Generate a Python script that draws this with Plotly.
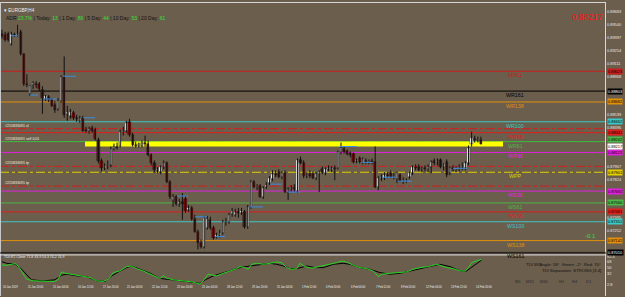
import plotly.graph_objects as go

W, H = 625, 297
BG = "rgb(107,94,77)"
PR = 606  # right edge of plotting area in px

# ---------------- data (prices in points, 1e-5) ----------------
opens = [89441, 89430, 89441, 89331, 89430, 89430, 89463, 89210, 88880, 88770,
         88869, 88880, 88880, 88814, 88715, 88737, 88704, 88649, 88605, 88693,
         88957, 88550, 88528, 88561, 88506, 88473, 88506, 88374, 88363, 88396,
         88374, 88264, 88022, 87945, 87967, 87978, 88165, 88187, 88198, 88352,
         88363, 88462, 88319, 88209, 88198, 88198, 88231, 88220, 88088, 88000,
         87923, 87901, 87956, 88000, 87791, 87593, 87626, 87549, 87571, 87604,
         87483, 87505, 87384, 87241, 87120, 87076, 87285, 87373, 87285, 87186,
         87197, 87230, 87351, 87351, 87439, 87428, 87461, 87450, 87461, 87296,
         87516, 87791, 87736, 87747, 87626, 87736, 87780, 87824, 87879, 87901,
         87846, 87890, 87681, 87714, 87725, 87692, 88033, 88000, 87857, 87879,
         87879, 87835, 87879, 87934, 87890, 87934, 87923, 87945, 87945, 88121,
         88165, 88132, 88110, 88099, 88022, 88055, 88000, 88022, 88011, 88022,
         88011, 87736, 87835, 87835, 87868, 87890, 87846, 87824, 87868, 87802,
         87802, 87846, 87890, 87956, 87956, 87934, 87945, 87934, 87956, 88022,
         88011, 88033, 87956, 88011, 87890, 87945, 87923, 87945, 87956, 87945,
         88000, 88220, 88275, 88264, 88264]
highs = [89485, 89463, 89463, 89463, 89452, 89540, 89485, 89221, 88990, 88869,
         88913, 88913, 88902, 88858, 88759, 88759, 88726, 88693, 88726, 88979,
         89188, 88638, 88605, 88583, 88539, 88528, 88528, 88407, 88407, 88418,
         88396, 88286, 88055, 88000, 88033, 88187, 88220, 88231, 88374, 88407,
         88473, 88495, 88341, 88242, 88231, 88253, 88308, 88253, 88110, 88033,
         87956, 87978, 88033, 88022, 87813, 87659, 87648, 87604, 87670, 87637,
         87538, 87527, 87428, 87263, 87153, 87417, 87417, 87406, 87307, 87230,
         87263, 87373, 87395, 87450, 87505, 87494, 87505, 87505, 87483, 87538,
         87813, 87813, 87769, 87769, 87747, 87791, 87857, 87923, 87923, 87934,
         87912, 87923, 87736, 87758, 87769, 88055, 88077, 88033, 87901, 87923,
         87912, 87901, 87923, 87967, 87956, 87978, 87967, 87978, 88143, 88231,
         88187, 88154, 88132, 88121, 88055, 88077, 88066, 88055, 88044, 88055,
         88187, 87857, 87879, 87901, 87901, 87923, 87890, 87912, 87890, 87846,
         87835, 87912, 87978, 87989, 87989, 87967, 87978, 87989, 88033, 88055,
         88055, 88055, 88000, 88044, 87967, 87978, 87967, 87989, 88011, 88022,
         88198, 88352, 88308, 88297, 88297]
lows = [89386, 89353, 89353, 89309, 89408, 89408, 89199, 88858, 88847, 88748,
        88825, 88836, 88803, 88550, 88693, 88682, 88627, 88561, 88583, 88671,
        88506, 88473, 88495, 88484, 88462, 88451, 88352, 88341, 88330, 88341,
        88253, 88000, 87912, 87923, 87934, 87956, 88143, 88154, 88176, 88308,
        88341, 88297, 88187, 88176, 88176, 88176, 88187, 88077, 87978, 87901,
        87890, 87879, 87934, 87780, 87604, 87516, 87527, 87516, 87373, 87450,
        87461, 87362, 87230, 87043, 87054, 87054, 87263, 87263, 87153, 87164,
        87175, 87208, 87307, 87329, 87406, 87406, 87395, 87428, 87274, 87274,
        87494, 87725, 87703, 87615, 87604, 87714, 87758, 87802, 87846, 87835,
        87824, 87670, 87593, 87681, 87681, 87670, 87989, 87835, 87835, 87835,
        87824, 87813, 87681, 87879, 87868, 87912, 87901, 87813, 87934, 88099,
        88110, 88088, 88066, 88000, 88000, 88000, 87989, 87989, 87989, 87989,
        87725, 87703, 87802, 87813, 87835, 87835, 87824, 87780, 87791, 87769,
        87780, 87824, 87868, 87923, 87912, 87901, 87912, 87901, 87890, 87978,
        87978, 87945, 87923, 87846, 87868, 87912, 87901, 87912, 87923, 87923,
        87978, 88187, 88231, 88231, 88209]
closes = [89419, 89375, 89375, 89441, 89419, 89441, 89210, 88880, 88869, 88858,
          88891, 88869, 88825, 88726, 88748, 88704, 88638, 88594, 88693, 88957,
          88539, 88572, 88572, 88506, 88495, 88506, 88363, 88363, 88385, 88363,
          88275, 88022, 87945, 87967, 87978, 88165, 88187, 88176, 88352, 88363,
          88451, 88319, 88209, 88198, 88220, 88231, 88220, 88088, 88000, 87923,
          87934, 87956, 88000, 87791, 87626, 87626, 87549, 87571, 87549, 87472,
          87505, 87384, 87241, 87120, 87076, 87395, 87384, 87285, 87175, 87208,
          87230, 87351, 87362, 87428, 87472, 87461, 87450, 87472, 87296, 87516,
          87791, 87736, 87747, 87626, 87725, 87758, 87835, 87879, 87868, 87846,
          87890, 87681, 87703, 87725, 87714, 88033, 88000, 87857, 87868, 87857,
          87835, 87879, 87901, 87901, 87934, 87945, 87945, 87934, 88121, 88176,
          88121, 88099, 88088, 88011, 88033, 88011, 88044, 88011, 88022, 88011,
          87736, 87835, 87846, 87868, 87857, 87846, 87857, 87890, 87802, 87813,
          87813, 87890, 87956, 87945, 87923, 87945, 87934, 87956, 88011, 88000,
          88022, 87956, 87989, 87868, 87945, 87934, 87945, 87956, 87967, 88000,
          88176, 88286, 88264, 88275, 88217]

# short blue swing segments (bar index from, bar index to, price in points)
blue_x0 = [2.9, 9.0, 13.5, 19.6, 26.0, 56.3, 62.1, 68.5, 79.7, 86.2, 92.0, 108.7, 115.8, 122.2, 127.3, 145.0]
blue_x1 = [5.1, 11.6, 17.7, 23.8, 29.9, 59.8, 65.9, 71.7, 83.9, 90.0, 95.8, 114.1, 119.3, 126.4, 131.8, 149.5]
blue_y = [89419, 88759, 88715, 88968, 88506, 87637, 87406, 87186, 87516, 87769, 87681, 88187, 88011, 87846, 87802, 87945]

# weekly fibonacci pivot levels
level_names = ["WR161", "WR138", "WR100", "WR78", "WR61", "WR38", "WPP",
               "WS38", "WS61", "WS78", "WS100", "WS138", "WS161"]
level_prices = [0.88803, 0.88682, 0.88462, 0.88341, 0.88242, 0.88121, 0.87901,
                0.87692, 0.87560, 0.87461, 0.87351, 0.87142, 0.87010]
level_colors = ["#000000", "#E0900A", "#3CC8C8", "#E01E1E", "#4CB848", "#E020E0", "#E0D000",
                "#E020E0", "#4CB848", "#E01E1E", "#3CC8C8", "#E0900A", "#000000"]
extra_level_name = "MR61"
extra_level_price = 0.89023

# order lines
order_prices = [0.88385, 0.87967, 0.87747]
order_texts = ["#215833091 sl", "#215833091 tp", "#215833091 tp"]
open_price = 0.88242
open_text = "#215833091 sell 0.01"
band_lo, band_hi = 0.88187, 0.88242
band_x0, band_x1 = 26.7, 161.1

# visible regular price-scale ticks (others are hidden by level labels)
price_ticks = [0.89683, 0.89540, 0.89397, 0.89254, 0.89111, 0.88968,
               0.88539, 0.88396, 0.87967, 0.87824, 0.87395, 0.87252]
current_price = 0.88217

# TDI lines (bar index, value)
tdi_green_x = [0, 1.5, 3.1, 4.2, 5.2, 7.9, 10.1, 13.3, 17.0, 18.1, 19.2, 20.3, 22.4, 24.5, 26.7, 28.3,
               30.4, 32.6, 34.2, 35.8, 37.9, 40.1, 41.7, 43.3, 45.4, 47.6, 49.7, 50.8, 51.9, 53.0,
               55.1, 57.8, 61.0, 63.7, 64.7, 66.3, 67.4, 69.0, 71.2, 73.3, 75.5, 76.5, 78.1, 79.2,
               80.3, 81.9, 84.0, 86.2, 88.3, 89.9, 91.5, 93.2, 94.8, 95.8, 97.4, 99.6, 102.3,
               105.5, 107.6, 109.2, 110.8, 113.0, 115.1, 117.3, 119.4, 121.0, 122.1, 124.8, 127.4,
               130.1, 132.2, 134.4, 137.1, 139.8, 140.8, 143.0, 145.1, 147.3, 148.9, 150.0, 151.0,
               152.6, 154.2]
tdi_green_y = [57.8, 56.8, 59.7, 61.6, 54.8, 17.0, 12.3, 12.3, 10.4, 17.0, 37.8, 34.1, 31.2, 26.5, 24.6, 21.8,
               12.3, 10.4, 17.0, 36.0, 40.7, 53.0, 54.8, 47.4, 40.7, 31.2, 21.8, 19.0, 26.5, 19.9,
               15.1, 12.3, 9.4, 2.8, 12.3, 31.2, 28.4, 26.5, 34.1, 40.7, 47.4, 53.0, 50.2, 45.4,
               59.7, 62.5, 59.7, 62.5, 66.3, 64.4, 50.2, 45.4, 47.4, 62.5, 53.0, 48.3, 53.0,
               59.7, 64.4, 69.1, 66.3, 56.8, 50.2, 47.4, 40.7, 24.6, 31.2, 34.1, 36.0,
               37.8, 45.4, 50.2, 53.0, 59.7, 56.8, 50.2, 47.4, 40.7, 40.7, 50.2, 64.4,
               69.1, 74.2]
tdi_black_x = [0, 1.5, 4.2, 5.8, 9.5, 13.3, 17.0, 19.2, 20.8, 24.0, 27.2, 30.4, 33.1, 35.3, 37.4,
               40.1, 41.7, 44.4, 47.6, 50.8, 55.1, 59.4, 63.7, 65.3, 68.0, 72.3, 76.5, 79.7, 83.0,
               86.2, 88.3, 90.5, 92.6, 94.8, 98.0, 100.6, 103.3, 106.5, 109.7, 111.9, 115.1, 118.3,
               121.5, 124.8, 128.0, 131.2, 134.4, 137.6, 140.8, 144.1, 147.3, 149.4, 151.6, 153.2, 154.2]
tdi_black_y = [67.2, 62.5, 59.7, 50.2, 15.1, 12.3, 15.1, 28.4, 31.2, 26.5, 24.6, 12.3, 10.4, 26.5, 37.8,
               50.2, 54.8, 45.4, 34.1, 19.0, 15.1, 10.4, 4.8, 15.1, 26.5, 37.8, 50.2, 54.8, 59.7,
               62.5, 59.7, 54.8, 47.4, 47.4, 54.8, 50.2, 50.2, 59.7, 62.5, 59.7, 50.2, 45.4,
               36.0, 31.2, 34.1, 40.7, 47.4, 53.0, 59.7, 53.0, 40.7, 40.7, 54.8, 66.3, 71.8]
tdi_ticks = [82.4, 68, 50, 32, 2.8]

time_label_idx = [0, 8, 16, 24, 32, 40, 48, 56, 64, 72, 80, 88, 96, 104, 112, 120, 128, 136, 144, 152]
time_labels = ["10 Jan 2019", "11 Jan 20:00", "15 Jan 04:00", "16 Jan 12:00", "17 Jan 20:00",
               "21 Jan 04:00", "22 Jan 12:00", "23 Jan 20:00", "25 Jan 04:00", "28 Jan 12:00",
               "29 Jan 20:00", "31 Jan 04:00", "1 Feb 12:00", "4 Feb 20:00", "6 Feb 04:00",
               "7 Feb 12:00", "8 Feb 20:00", "12 Feb 04:00", "13 Feb 12:00", "14 Feb 20:00"]

# ---------------- helpers (layout only) ----------------
def fx(px):
    return px / W

def fy(py):
    return 1 - py / H

FONT = "Liberation Sans"
n = len(opens)
idx = list(range(n))
o = [v / 1e5 for v in opens]
h = [v / 1e5 for v in highs]
l = [v / 1e5 for v in lows]
c = [v / 1e5 for v in closes]

fig = go.Figure()

# wicks
wx, wy = [], []
for i in idx:
    wx += [i, i, None]
    wy += [l[i], h[i], None]
fig.add_trace(go.Scatter(x=wx, y=wy, mode="lines", line=dict(color="#111111", width=1),
                         hoverinfo="skip", showlegend=False, xaxis="x", yaxis="y"))

# bodies
base = [min(o[i], c[i]) for i in idx]
hgt = [max(abs(c[i] - o[i]), 0.00003) for i in idx]
cols = ["#FFFFFF" if c[i] >= o[i] else "#7A0A0A" for i in idx]
fig.add_trace(go.Bar(x=idx, y=hgt, base=base, width=0.72,
                     marker=dict(color=cols, line=dict(color="#111111", width=0.4)),
                     showlegend=False, hoverinfo="skip", xaxis="x", yaxis="y"))

# blue segments
bx, by = [], []
for a, b, v in zip(blue_x0, blue_x1, blue_y):
    bx += [a, b, None]
    by += [v / 1e5, v / 1e5, None]
fig.add_trace(go.Scatter(x=bx, y=by, mode="lines", line=dict(color="#3C8CE0", width=1),
                         hoverinfo="skip", showlegend=False, xaxis="x", yaxis="y"))

# TDI
fig.add_trace(go.Scatter(x=tdi_black_x, y=tdi_black_y, mode="lines", line=dict(color="#000000", width=1),
                         showlegend=False, xaxis="x2", yaxis="y2"))
fig.add_trace(go.Scatter(x=tdi_green_x, y=tdi_green_y, mode="lines", line=dict(color="#22D822", width=1),
                         showlegend=False, xaxis="x2", yaxis="y2"))

shapes = []
ann = []
LBL = 3.9  # right-scale label font size

# pivot lines
for name, p, col in zip(level_names, level_prices, level_colors):
    shapes.append(dict(type="line", xref="x domain", yref="y", x0=0, x1=1, y0=p, y1=p,
                       line=dict(color=col, width=1, dash="dashdot" if name == "WPP" else "solid"), layer="below"))
    ann.append(dict(x=165, y=p, xref="x", yref="y", text=name, showarrow=False, yshift=-4,
                    font=dict(family=FONT, size=5.3, color=col)))
    ann.append(dict(x=fx(PR + 1), y=p, xref="paper", yref="y", text=f"{p:.5f}", showarrow=False,
                    xanchor="left", bgcolor=col, borderpad=0, yshift=2 if name == "WR61" else 0,
                    font=dict(family=FONT, size=LBL, color="#FFFFFF" if col == "#000000" else "#000000")))
shapes.append(dict(type="line", xref="x domain", yref="y", x0=0, x1=1, y0=extra_level_price, y1=extra_level_price,
                   line=dict(color="#C81E1E", width=1), layer="below"))
ann.append(dict(x=165, y=extra_level_price, xref="x", yref="y", text=extra_level_name, showarrow=False, yshift=-4,
                font=dict(family=FONT, size=5.3, color="#C81E1E")))
ann.append(dict(x=fx(PR + 1), y=extra_level_price, xref="paper", yref="y", text=f"{extra_level_price:.5f}",
                showarrow=False, xanchor="left", bgcolor="#C81E1E", borderpad=0,
                font=dict(family=FONT, size=LBL, color="#000000")))

# order lines
for p, t in zip(order_prices, order_texts):
    shapes.append(dict(type="line", xref="x domain", yref="y", x0=0, x1=1, y0=p, y1=p,
                       line=dict(color="#D21E1E", width=1, dash="dashdot"), layer="below"))
    ann.append(dict(x=fx(3), y=p, xref="paper", yref="y", text=t, showarrow=False, xanchor="left", yshift=3,
                    font=dict(family=FONT, size=3.6, color="#F0F0F0")))
shapes.append(dict(type="line", xref="x domain", yref="y", x0=0, x1=1, y0=open_price, y1=open_price,
                   line=dict(color="#3CB43C", width=1, dash="dashdot"), layer="below"))
ann.append(dict(x=fx(3), y=open_price, xref="paper", yref="y", text=open_text, showarrow=False, xanchor="left",
                yshift=3, font=dict(family=FONT, size=3.6, color="#F0F0F0")))

# yellow band
shapes.append(dict(type="rect", xref="x", yref="y", x0=band_x0, x1=band_x1, y0=band_lo, y1=band_hi,
                   fillcolor="#FFFF00", line=dict(width=0), layer="below"))

# current price label
ann.append(dict(x=fx(PR + 1), y=current_price, xref="paper", yref="y", text=f"{current_price:.5f}",
                showarrow=False, xanchor="left", bgcolor="#FFFFFF", borderpad=0, yshift=-2.5,
                font=dict(family=FONT, size=LBL, color="#000000")))

# frame lines
shapes += [
    dict(type="line", xref="paper", yref="paper", x0=fx(PR - 0.5), x1=fx(PR - 0.5), y0=0, y1=1,
         line=dict(color="#D8D8D8", width=1)),
    dict(type="line", xref="paper", yref="paper", x0=0, x1=fx(PR), y0=fy(0.5), y1=fy(0.5),
         line=dict(color="#D8D8D8", width=1)),
    dict(type="line", xref="paper", yref="paper", x0=fx(0.5), x1=fx(0.5), y0=0, y1=1,
         line=dict(color="#C8C8C8", width=1)),
    dict(type="line", xref="paper", yref="paper", x0=0, x1=fx(PR), y0=fy(253.5), y1=fy(253.5),
         line=dict(color="#1E1E1E", width=1)),
    dict(type="line", xref="paper", yref="paper", x0=0, x1=fx(PR), y0=fy(255.5), y1=fy(255.5),
         line=dict(color="#E6E6E6", width=1)),
]

# header texts
ann.append(dict(x=fx(2), y=fy(4), xref="paper", yref="paper", text="▾ EURGBP,H4", showarrow=False,
                xanchor="left", font=dict(family=FONT, size=4.6, color="#F0F0F0")))
G = "#30E030"
adr = (f"ADR <span style='color:{G}'>23.7%</span> | Today: <span style='color:{G}'>13</span>"
       f" | 1 Day: <span style='color:{G}'>86</span> | 5 Day: <span style='color:{G}'>44</span>"
       f" | 10 Day: <span style='color:{G}'>53</span> | 20 Day: <span style='color:{G}'>61</span>")
ann.append(dict(x=fx(4), y=fy(10.7), xref="paper", yref="paper", text=adr, showarrow=False,
                xanchor="left", font=dict(family=FONT, size=5.0, color="#111111")))
ann.append(dict(x=fx(PR - 1), y=fy(8), xref="paper", yref="paper", text="0.88217", showarrow=False,
                xanchor="right", font=dict(family=FONT, size=8.5, color="#FF1010")))
ann.append(dict(x=fx(590), y=fy(241), xref="paper", yref="paper", text="-0.1", showarrow=False,
                xanchor="center", font=dict(family=FONT, size=6, color="#30E030")))

# TDI texts
ann.append(dict(x=fx(2), y=fy(262), xref="paper", yref="paper", text="TDI-RT-Clone 71.8 33.9 53.3 74.2 74.9",
                showarrow=False, xanchor="left", font=dict(family=FONT, size=3.5, color="#F0F0F0")))
ann.append(dict(x=fx(603), y=fy(270), xref="paper", yref="paper", text="TDI W/Angle: 58°  Green: -2°  Red: 70°",
                showarrow=False, xanchor="right", font=dict(family=FONT, size=4.3, color="#111111")))
ann.append(dict(x=fx(603), y=fy(276), xref="paper", yref="paper", text="TDI Separation: STRONG [3.4]",
                showarrow=False, xanchor="right", font=dict(family=FONT, size=4.3, color="#111111")))
for tf, xp in zip(["M5", "M15", "M30", "H1", "H4", "D1"], [523, 537, 551, 567, 580, 594]):
    ann.append(dict(x=fx(xp), y=fy(287), xref="paper", yref="paper", text=tf, showarrow=False,
                    font=dict(family=FONT, size=4.0, color="#2A2A2A")))

# time labels
for i, t in zip(time_label_idx, time_labels):
    ann.append(dict(x=i, y=fy(291.5), xref="x2", yref="paper", text=t, showarrow=False, xanchor="left",
                    xshift=-1, font=dict(family=FONT, size=2.7, color="#F0F0F0")))

XR = [-0.643, (PR - 2) / 3.11]
fig.update_layout(
    width=W, height=H, margin=dict(l=0, r=0, t=0, b=0),
    paper_bgcolor=BG, plot_bgcolor=BG, showlegend=False, bargap=0,
    xaxis=dict(domain=[0, fx(PR)], range=XR, visible=False, anchor="y"),
    yaxis=dict(domain=[fy(253), fy(2)], range=[0.87010, 0.89771], side="right", anchor="x",
               tickvals=price_ticks, ticktext=[f"{v:.5f}" for v in price_ticks], ticks="",
               showgrid=False, zeroline=False, showline=False,
               tickfont=dict(family=FONT, size=LBL, color="#E8E8E8")),
    xaxis2=dict(domain=[0, fx(PR)], range=XR, visible=False, anchor="y2", matches="x"),
    yaxis2=dict(domain=[fy(286), fy(256)], range=[0, 85.2], side="right", anchor="x2",
                tickvals=tdi_ticks, ticktext=[str(v) for v in tdi_ticks], ticks="",
                showgrid=False, zeroline=False, showline=False,
                tickfont=dict(family=FONT, size=LBL, color="#E8E8E8")),
    shapes=shapes, annotations=ann,
)
fig.write_html("out.html")
